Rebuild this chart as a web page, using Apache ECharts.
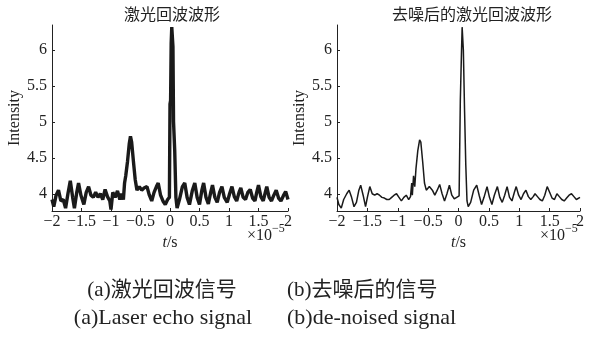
<!DOCTYPE html>
<html>
<head>
<meta charset="utf-8">
<script src="https://cdn.jsdelivr.net/npm/echarts@6/dist/echarts.min.js"></script>
<style>
  html, body { margin: 0; padding: 0; background: #fff; }
  #chart { width: 590px; height: 341px; }
</style>
</head>
<body>
<div id="chart"></div>
<script>
// time in units of 1e-5 s, intensity
const leftSignal = [
  [-2.00, 3.92], [-1.97, 3.82], [-1.93, 3.98], [-1.89, 4.05], [-1.85, 3.90],
  [-1.81, 3.92], [-1.77, 3.80], [-1.73, 4.00], [-1.69, 4.18], [-1.65, 3.95],
  [-1.62, 3.80], [-1.58, 4.02], [-1.55, 4.15], [-1.51, 3.98], [-1.46, 3.85],
  [-1.42, 4.02], [-1.38, 4.10], [-1.34, 3.98], [-1.30, 3.95], [-1.26, 4.02],
  [-1.22, 3.95], [-1.18, 4.00], [-1.14, 3.92], [-1.10, 4.06], [-1.06, 3.96],
  [-1.02, 3.90], [-1.00, 3.78], [-0.97, 4.02], [-0.93, 3.95], [-0.89, 4.04],
  [-0.85, 3.92], [-0.82, 4.00], [-0.79, 3.92], [-0.77, 4.15], [-0.75, 4.25],
  [-0.72, 4.45], [-0.69, 4.70], [-0.67, 4.80], [-0.65, 4.72], [-0.62, 4.45],
  [-0.59, 4.20], [-0.56, 4.05], [-0.52, 4.10], [-0.48, 4.05], [-0.44, 4.08],
  [-0.39, 4.10], [-0.35, 3.98], [-0.31, 3.90], [-0.27, 4.02], [-0.23, 4.10],
  [-0.20, 4.15], [-0.16, 3.98], [-0.12, 3.90], [-0.08, 3.85], [-0.04, 3.92],
  [-0.01, 3.95], [0.00, 5.25], [0.01, 5.30], [0.02, 6.10], [0.03, 6.32],
  [0.05, 6.05], [0.06, 5.00], [0.08, 4.60], [0.10, 3.95], [0.12, 3.80],
  [0.16, 3.92], [0.21, 4.10], [0.25, 4.15], [0.29, 3.95], [0.33, 3.85],
  [0.38, 4.05], [0.42, 4.15], [0.46, 3.95], [0.50, 3.85], [0.54, 4.05],
  [0.57, 4.15], [0.61, 3.95], [0.65, 3.86], [0.69, 4.02], [0.72, 4.12],
  [0.76, 3.95], [0.80, 3.88], [0.84, 4.02], [0.88, 4.10], [0.92, 3.95],
  [0.97, 3.88], [1.01, 4.00], [1.05, 4.10], [1.09, 3.96], [1.13, 3.90],
  [1.17, 4.02], [1.20, 4.08], [1.24, 3.95], [1.28, 3.92], [1.32, 4.02],
  [1.36, 4.06], [1.40, 3.94], [1.44, 3.90], [1.47, 4.02], [1.50, 4.12],
  [1.54, 3.96], [1.58, 3.90], [1.61, 4.00], [1.64, 4.10], [1.68, 3.95],
  [1.72, 3.90], [1.76, 3.98], [1.80, 4.05], [1.84, 3.94], [1.88, 3.90],
  [1.92, 3.97], [1.96, 4.03], [2.00, 3.92]
]

const rightSignal = [
  [-2.00, 3.95], [-1.97, 3.85], [-1.93, 3.80], [-1.89, 3.92], [-1.84, 4.00],
  [-1.80, 4.05], [-1.76, 3.95], [-1.72, 3.82], [-1.68, 3.88], [-1.64, 4.05],
  [-1.61, 4.12], [-1.57, 3.98], [-1.53, 3.82], [-1.50, 3.95], [-1.46, 4.10],
  [-1.42, 4.00], [-1.38, 3.98], [-1.34, 4.00], [-1.30, 3.98], [-1.26, 3.95],
  [-1.22, 3.94], [-1.18, 3.92], [-1.14, 3.92], [-1.10, 3.95], [-1.06, 3.98],
  [-1.02, 4.00], [-0.98, 3.95], [-0.94, 3.90], [-0.90, 3.95], [-0.86, 3.98],
  [-0.82, 3.92], [-0.79, 3.96], [-0.77, 4.15], [-0.76, 3.98], [-0.74, 4.25],
  [-0.72, 4.10], [-0.70, 4.35], [-0.67, 4.60], [-0.64, 4.75], [-0.62, 4.72],
  [-0.59, 4.45], [-0.56, 4.15], [-0.53, 4.05], [-0.48, 4.10], [-0.43, 4.05],
  [-0.39, 3.98], [-0.35, 4.05], [-0.31, 4.13], [-0.27, 4.00], [-0.23, 3.90],
  [-0.19, 4.00], [-0.15, 4.12], [-0.11, 3.98], [-0.07, 3.93], [-0.03, 3.95],
  [0.01, 3.97], [0.03, 5.30], [0.05, 6.00], [0.06, 6.32], [0.08, 6.00],
  [0.10, 5.15], [0.12, 4.40], [0.14, 3.90], [0.16, 3.82], [0.20, 3.88],
  [0.25, 4.05], [0.30, 4.12], [0.34, 3.98], [0.38, 3.85], [0.42, 3.95],
  [0.47, 4.10], [0.51, 3.95], [0.55, 3.85], [0.59, 3.98], [0.64, 4.10],
  [0.68, 3.95], [0.72, 3.88], [0.76, 3.98], [0.80, 4.10], [0.84, 3.95],
  [0.88, 3.90], [0.92, 4.02], [0.95, 4.10], [0.99, 3.98], [1.03, 3.92],
  [1.07, 4.00], [1.11, 4.05], [1.15, 3.96], [1.19, 3.92], [1.23, 3.96],
  [1.26, 4.00], [1.30, 3.96], [1.34, 3.92], [1.38, 3.90], [1.42, 3.98],
  [1.46, 4.10], [1.50, 4.02], [1.54, 3.94], [1.58, 3.92], [1.62, 4.00],
  [1.66, 3.96], [1.70, 3.92], [1.74, 3.90], [1.78, 3.94], [1.82, 3.98],
  [1.86, 4.00], [1.90, 3.96], [1.94, 3.92], [1.97, 3.94], [2.00, 3.95]
]

const yTicks = [4, 4.5, 5, 5.5, 6]
const titles = ['激光回波波形', '去噪后的激光回波波形']
const captionsZh = ['(a)激光回波信号', '(b)去噪后的信号']
const captionsEn = ['(a)Laser echo signal', '(b)de-noised signal']

const serif = '"Liberation Serif", "Times New Roman", serif'
const cjk = '"Noto Sans CJK SC", sans-serif'
const ink = '#222'

function xAxisFor(idx) {
  return {
    type: 'value',
    gridIndex: idx,
    min: -2,
    max: 2,
    interval: 0.5,
    axisLine: { show: true, onZero: false, lineStyle: { color: ink, width: 1 } },
    axisTick: { show: true, inside: true, length: 3, lineStyle: { color: ink } },
    splitLine: { show: false },
    axisLabel: {
      color: ink, fontFamily: serif, fontSize: 16, margin: 3,
      formatter: (v) => String(v).replace('-', '−'),
    },
    name: '{i|t}{n|/s}',
    nameLocation: 'middle',
    nameGap: 23,
    nameTextStyle: {
      rich: {
        i: { fontFamily: serif, fontSize: 16, fontStyle: 'italic', color: ink },
        n: { fontFamily: serif, fontSize: 16, color: ink },
      },
    },
  }
}

function yAxisFor(idx) {
  return {
    type: 'value',
    gridIndex: idx,
    min: 3.76,
    max: 6.35,
    axisLine: { show: true, onZero: false, lineStyle: { color: ink, width: 1 } },
    axisTick: { show: true, inside: true, length: 3, customValues: yTicks, lineStyle: { color: ink } },
    splitLine: { show: false },
    axisLabel: {
      color: ink, fontFamily: serif, fontSize: 16, margin: 5,
      customValues: yTicks,
    },
    name: 'Intensity',
    nameLocation: 'middle',
    nameGap: 28,
    nameTextStyle: { fontFamily: serif, fontSize: 16, color: ink },
  }
}

function sciText(x) {
  return {
    type: 'text',
    left: x,
    top: 223,
    style: {
      text: '{a|×10}{b|−5}',
      rich: {
        a: { fontFamily: serif, fontSize: 16, fill: ink, padding: [7, 0, 0, 0] },
        b: { fontFamily: serif, fontSize: 12, fill: ink, padding: [0, 0, 7, 0] },
      },
    },
  }
}

function label(text, x, y, align, size, family) {
  return {
    type: 'text',
    x: x,
    y: y,
    style: {
      text: text,
      fontFamily: family,
      fontSize: size,
      fill: ink,
      textAlign: align,
      textVerticalAlign: 'middle',
    },
  }
}

const chart = echarts.init(document.getElementById('chart'), null, { renderer: 'canvas' })

chart.setOption({
  animation: false,
  backgroundColor: '#fff',
  grid: [
    { left: 52, right: 302, top: 25, bottom: 130 },
    { left: 337, right: 10, top: 25, bottom: 130 },
  ],
  xAxis: [xAxisFor(0), xAxisFor(1)],
  yAxis: [yAxisFor(0), yAxisFor(1)],
  series: [
    {
      type: 'line', xAxisIndex: 0, yAxisIndex: 0,
      data: leftSignal, showSymbol: false,
      lineStyle: { color: '#1a1a1a', width: 3.4 },
    },
    {
      type: 'line', xAxisIndex: 1, yAxisIndex: 1,
      data: rightSignal, showSymbol: false,
      lineStyle: { color: '#1a1a1a', width: 1.5 },
    },
  ],
  graphic: [
    label(titles[0], 172, 14, 'center', 16, cjk),
    label(titles[1], 472, 14, 'center', 16, cjk),
    sciText(247),
    sciText(540),
    label(captionsZh[0], 162, 290, 'center', 21, serif + ', ' + cjk),
    label(captionsZh[1], 287, 290, 'left', 21, serif + ', ' + cjk),
    label(captionsEn[0], 163, 318, 'center', 22, serif),
    label(captionsEn[1], 287, 318, 'left', 22, serif),
  ],
})
</script>
</body>
</html>
